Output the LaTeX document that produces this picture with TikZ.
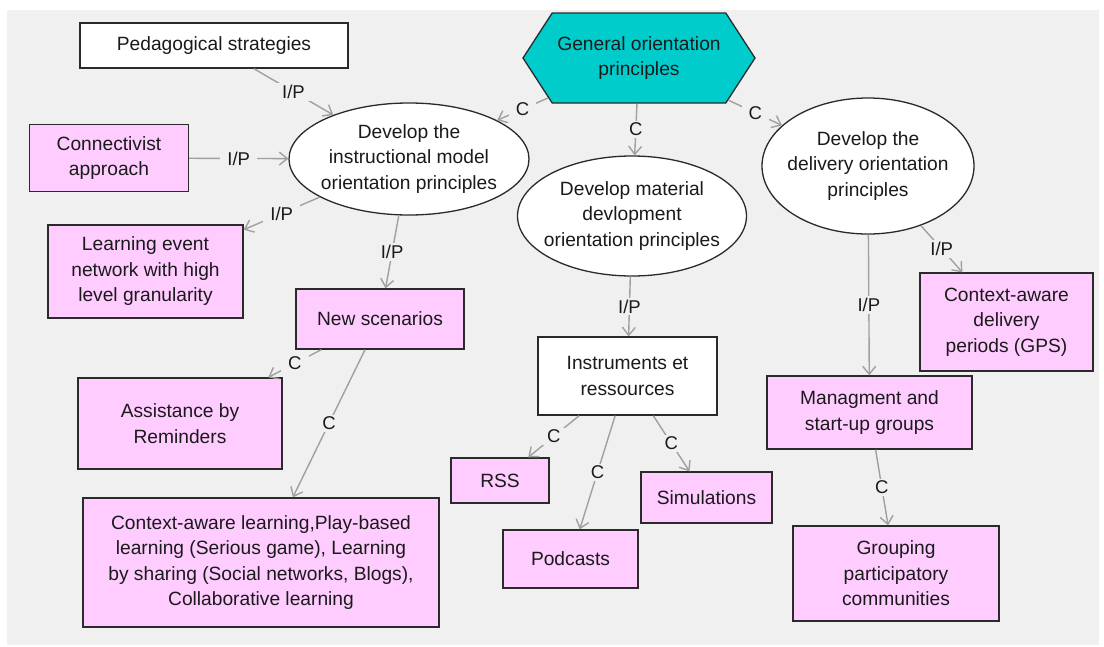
\documentclass[tikz,border=0pt]{standalone}
\usepackage{fontspec}
\setmainfont{Liberation Sans}
\usetikzlibrary{arrows.meta,shapes.geometric,shapes.symbols}
\definecolor{bg}{HTML}{F0F0F0}
\definecolor{pinkfill}{HTML}{FFCCFF}
\definecolor{cyanfill}{HTML}{00CCCC}
\definecolor{edgegray}{HTML}{A0A0A0}
\definecolor{txt}{HTML}{1A1A1A}
\definecolor{border}{HTML}{2A2A2A}
\tikzset{
  nodefont/.style={font=\fontsize{19.2}{25.5}\selectfont},
  base/.style={draw=border, line width=1.3pt, inner sep=0pt, align=center, text=txt, nodefont},
  whitebox/.style={base, rectangle, fill=white},
  pinkbox/.style={base, rectangle, fill=pinkfill},
  oval/.style={base, ellipse, fill=white},
  ovaltext/.style={align=center, text=txt, nodefont, inner sep=0pt},
  hexa/.style={base, signal, signal to=west and east, signal pointer angle=114, fill=cyanfill},
  edge/.style={draw=edgegray, line width=1.4pt, -{Straight Barb[length=8pt,width=13pt,line width=1.4pt]}},
  lbl/.style={fill=bg, text=txt, inner xsep=7pt, inner ysep=2pt, font=\fontsize{18.5}{20}\selectfont}
}
\begin{document}
\begin{tikzpicture}[x=1pt,y=-1pt]
\useasboundingbox (0,0) rectangle (1104,646);
\fill[bg] (7,10) rectangle (1099,645);

\node[whitebox, minimum width=268pt, minimum height=45pt] (ped) at (214,45.5) {Pedagogical strategies};
\node[hexa, minimum width=232pt, minimum height=90pt] (gen) at (639,58) {General orientation\\principles};
\node[pinkbox, minimum width=159pt, minimum height=67pt] (conn) at (109,158) {Connectivist\\approach};
\node[oval, minimum width=240pt, minimum height=112pt,
  label={[ovaltext]center:Develop the\\instructional model\\orientation principles}] (instr) at (409,159) {};
\node[oval, minimum width=229pt, minimum height=120pt,
  label={[ovaltext]center:Develop material\\devlopment\\orientation principles}] (mat) at (632,216) {};
\node[oval, minimum width=212pt, minimum height=136pt,
  label={[ovaltext]center:Develop the\\delivery orientation\\principles}] (deliv) at (868,166) {};
\node[pinkbox, minimum width=195pt, minimum height=93pt] (learn) at (145.5,271.5) {Learning event\\network with high\\level granularity};
\node[pinkbox, minimum width=168pt, minimum height=60pt] (newsc) at (380,319) {New scenarios};
\node[pinkbox, minimum width=204pt, minimum height=91pt] (assist) at (180,423.5) {Assistance by\\Reminders};
\node[pinkbox, minimum width=356pt, minimum height=129pt] (cal) at (261,562.5) {Context-aware learning,Play-based\\learning (Serious game), Learning\\by sharing (Social networks, Blogs),\\Collaborative learning};
\node[whitebox, minimum width=179pt, minimum height=78pt] (instru) at (627.5,376) {Instruments et\\ressources};
\node[pinkbox, minimum width=98pt, minimum height=45pt] (rss) at (500,480.5) {RSS};
\node[pinkbox, minimum width=131pt, minimum height=51pt] (sim) at (706.5,497.5) {Simulations};
\node[pinkbox, minimum width=135pt, minimum height=58pt] (pod) at (570.5,559) {Podcasts};
\node[pinkbox, minimum width=173pt, minimum height=98pt] (gps) at (1006.5,322) {Context-aware\\delivery\\periods (GPS)};
\node[pinkbox, minimum width=205pt, minimum height=73pt] (mgmt) at (869.5,412.5) {Managment and\\start-up groups};
\node[pinkbox, minimum width=206pt, minimum height=95pt] (grp) at (896,573.5) {Grouping\\participatory\\communities};

\draw[edge] (ped) -- node[lbl]{I/P} (instr);
\draw[edge] (conn) -- node[lbl]{I/P} (instr);
\draw[edge] (instr) -- node[lbl]{I/P} (learn);
\draw[edge] (instr) -- node[lbl]{I/P} (newsc);
\draw[edge] (gen) -- node[lbl]{C} (instr);
\draw[edge] (gen) -- node[lbl]{C} (mat);
\draw[edge] (gen) -- node[lbl]{C} (deliv);
\draw[edge] (mat) -- node[lbl]{I/P} (instru);
\draw[edge] (deliv) -- node[lbl]{I/P} (gps);
\draw[edge] (deliv) -- node[lbl]{I/P} (mgmt);
\draw[edge] (newsc) -- node[lbl]{C} (assist);
\draw[edge] (newsc) -- node[lbl]{C} (cal);
\draw[edge] (instru) -- node[lbl]{C} (rss);
\draw[edge] (instru) -- node[lbl]{C} (pod);
\draw[edge] (instru) -- node[lbl]{C} (sim);
\draw[edge] (mgmt) -- node[lbl]{C} (grp);
\end{tikzpicture}
\end{document}
